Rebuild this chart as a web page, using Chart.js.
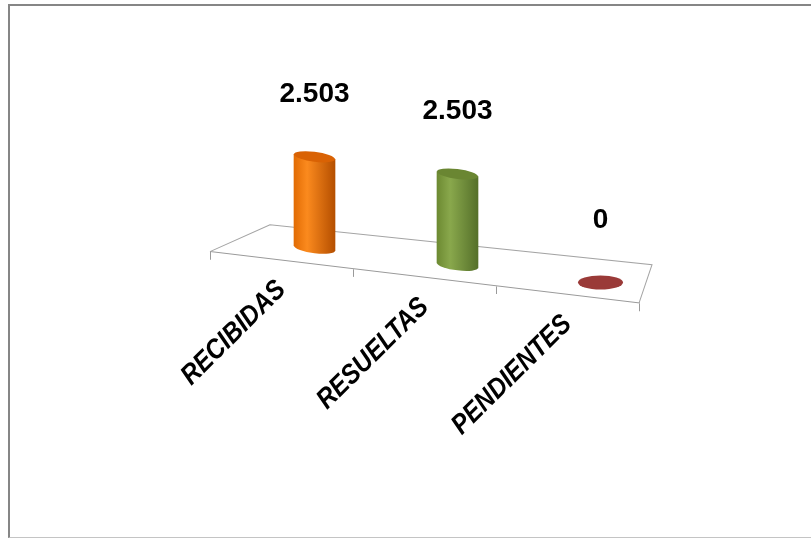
<!DOCTYPE html>
<html>
<head>
<meta charset="utf-8">
<title>Solicitudes</title>
<script src="https://cdn.jsdelivr.net/npm/chart.js@4.4.1/dist/chart.umd.min.js"></script>
<style>
  html, body { margin: 0; padding: 0; background: #fff; overflow: hidden; }
  .wrap { position: relative; width: 811px; height: 538px; }
  .frame {
    position: absolute; left: 8px; top: 4px; width: 830px; height: 531px;
    border-left: 2px solid #868686; border-top: 2px solid #868686; border-bottom: 1px solid #c4c4c4;
  }
  canvas { position: absolute; left: 0; top: 0; }
</style>
</head>
<body>
<div class="wrap">
  <div class="frame"></div>
  <canvas id="barChart"></canvas>
</div>
<script>
const categories = ['RECIBIDAS', 'RESUELTAS', 'PENDIENTES'];
const values = [2503, 2503, 0];

// left edge, highlight, right edge, top cap
const barShades = [
  ['#e26c04', '#fb8a1e', '#b54f00', '#d96204'],
  ['#6d8a32', '#89a84c', '#55702a', '#6a8632'],
  ['#8c3331', '#9a3a38', '#7a2b29', '#963836']
];

const SKEW = 0.12;
const DEPTH_X = 33;
const DEPTH_Y = 16;
const BAR_WIDTH = 41;
const LABEL_GAP = 55;
const FONT = '"Liberation Sans", Arial, sans-serif';

function formatValue(v) {
  return String(v).replace(/\B(?=(\d{3})+(?!\d))/g, '.');
}

function cylinderFill(ctx, x, w, shades) {
  const g = ctx.createLinearGradient(x - w / 2, 0, x + w / 2, 0);
  g.addColorStop(0, shades[0]);
  g.addColorStop(0.32, shades[1]);
  g.addColorStop(1, shades[2]);
  return g;
}

// device position of a point that sits in the shifted (depth) plane
function toDevice(chart, x, y) {
  const dx = x + DEPTH_X;
  return [dx, y - DEPTH_Y + SKEW * (dx - chart.chartArea.left)];
}

function drawFloor(chart) {
  const ctx = chart.ctx;
  const { left, right, bottom } = chart.chartArea;
  ctx.save();
  ctx.strokeStyle = '#a4a4a4';
  ctx.lineWidth = 1;
  ctx.beginPath();
  ctx.moveTo(left, bottom);
  ctx.lineTo(left + 60, bottom - 34);
  ctx.lineTo(right + 13, bottom - 40);
  ctx.lineTo(right, bottom);
  ctx.stroke();
  ctx.restore();
}

function drawCaps(chart) {
  const ctx = chart.ctx;
  const meta = chart.getDatasetMeta(0);
  meta.data.forEach((el, i) => {
    if (values[i] === 0) return;
    const w = el.width;
    const shades = barShades[i];
    ctx.save();
    ctx.fillStyle = cylinderFill(ctx, el.x, w, shades);
    ctx.beginPath();
    ctx.ellipse(el.x, el.base, w / 2, 5, 0, 0, Math.PI * 2);
    ctx.fill();
    ctx.fillStyle = shades[3];
    ctx.beginPath();
    ctx.ellipse(el.x, el.y, w / 2, 5, 0, 0, Math.PI * 2);
    ctx.fill();
    ctx.restore();
  });
}

function drawZeroMarks(chart) {
  const ctx = chart.ctx;
  const meta = chart.getDatasetMeta(0);
  meta.data.forEach((el, i) => {
    if (values[i] !== 0) return;
    const [x, y] = toDevice(chart, el.x, el.base);
    ctx.save();
    ctx.fillStyle = barShades[i][1];
    ctx.beginPath();
    ctx.ellipse(x, y, el.width / 2 + 2, 7, 0, 0, Math.PI * 2);
    ctx.fill();
    ctx.restore();
  });
}

function drawValueLabels(chart) {
  const ctx = chart.ctx;
  const meta = chart.getDatasetMeta(0);
  ctx.save();
  ctx.font = 'bold 28px ' + FONT;
  ctx.fillStyle = '#000';
  ctx.textAlign = 'center';
  ctx.textBaseline = 'alphabetic';
  meta.data.forEach((el, i) => {
    const [x, y] = toDevice(chart, el.x, el.y);
    ctx.fillText(formatValue(values[i]), x, y - LABEL_GAP);
  });
  ctx.restore();
}

const perspective = {
  id: 'perspective',
  beforeDraw(chart) {
    chart.ctx.save();
    chart.ctx.transform(1, SKEW, 0, 1, 0, -SKEW * chart.chartArea.left);
  },
  beforeDatasetsDraw(chart) {
    drawFloor(chart);
    chart.ctx.save();
    chart.ctx.translate(DEPTH_X, -DEPTH_Y);
  },
  afterDatasetsDraw(chart) {
    drawCaps(chart);
    chart.ctx.restore();
  },
  afterDraw(chart) {
    chart.ctx.restore();
    drawZeroMarks(chart);
    drawValueLabels(chart);
  }
};

const barChart = new Chart(document.getElementById('barChart'), {
  type: 'bar',
  data: {
    labels: categories,
    datasets: [{
      data: values,
      backgroundColor: (c) => {
        const scale = c.chart.scales.x;
        const shades = barShades[c.dataIndex] || barShades[0];
        if (!scale || c.type !== 'data') return shades[1];
        const px = scale.getPixelForValue(c.dataIndex);
        if (!Number.isFinite(px)) return shades[1];
        return cylinderFill(c.chart.ctx, px, BAR_WIDTH, shades);
      },
      borderWidth: 0,
      barThickness: BAR_WIDTH,
      clip: false
    }]
  },
  options: {
    responsive: true,
    maintainAspectRatio: false,
    animation: false,
    layout: {
      padding: { top: 60, left: 210, right: 172, bottom: 120 }
    },
    scales: {
      x: {
        grid: {
          display: true,
          drawOnChartArea: false,
          drawTicks: true,
          tickLength: 8,
          color: '#9a9a9a',
          offset: true
        },
        border: { display: true, color: '#9a9a9a', width: 1 },
        ticks: {
          color: '#000',
          autoSkip: false,
          minRotation: 48,
          maxRotation: 48,
          padding: 7,
          font: { family: FONT, size: 26, weight: 'bold', style: 'italic' }
        }
      },
      y: {
        display: false,
        min: 0,
        max: 5250
      }
    },
    plugins: {
      legend: { display: false },
      tooltip: { enabled: false }
    }
  },
  plugins: [perspective]
});
</script>
</body>
</html>
